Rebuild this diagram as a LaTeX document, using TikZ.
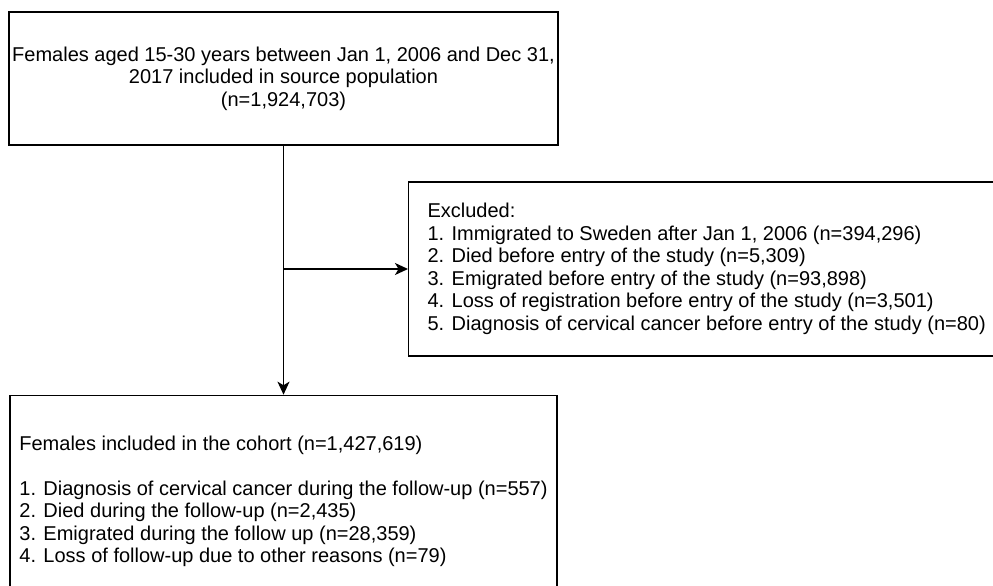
\documentclass[tikz,border=0pt]{standalone}
\usepackage{fontspec}
\setmainfont{Liberation Sans}
\usetikzlibrary{arrows.meta,positioning}
\tikzset{%
	block/.style    = {draw, rectangle, line width=1.4pt, align=center, font=\fontsize{20pt}{22.5pt}\selectfont}, % Box
	listbox/.style  = {block, align=left}, % List box
	waypoint/.style = {coordinate}, % Branch point
	arrow/.style    = {line width=1.4pt, -{Stealth[length=13pt,width=12pt,inset=3.5pt]}},
}

\begin{document}
\begin{tikzpicture}[x=1pt,y=-1pt,node distance=249pt]
	\useasboundingbox (0,0) rectangle (993,586);
	\clip (0,0) rectangle (993,586);
	\node [block,minimum width=547pt,minimum height=133pt] (src) at (283.5,78.5) {Females aged 15-30 years between Jan 1, 2006 and Dec 31,\\2017 included in source population\\(n=1,924,703)};
	\node [listbox,minimum width=547pt,minimum height=212pt] (cohort) [below=of src] {Females included in the cohort (n=1,427,619)\\[22.5pt]1. Diagnosis of cervical cancer during the follow-up (n=557)\\2. Died during the follow-up (n=2,435)\\3. Emigrated during the follow up (n=28,359)\\4. Loss of follow-up due to other reasons (n=79)};
	\node [waypoint] (split) at (283.5,269) {};
	\node [listbox,minimum width=596pt,minimum height=174pt] (excl) [right=124.5pt of split] {Excluded:\\1. Immigrated to Sweden after Jan 1, 2006 (n=394,296)\\2. Died before entry of the study (n=5,309)\\3. Emigrated before entry of the study (n=93,898)\\4. Loss of registration before entry of the study (n=3,501)\\5. Diagnosis of cervical cancer before entry of the study (n=80)};
	
	\draw[arrow] (src) -- (cohort);
	\draw[arrow] (split) -- (excl);
\end{tikzpicture}
\end{document}
